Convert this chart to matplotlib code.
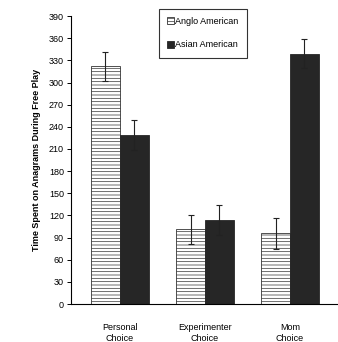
import numpy as np
import matplotlib.pyplot as plt

categories = ['Personal\nChoice', 'Experimenter\nChoice', 'Mom\nChoice']
anglo = [322, 101, 96]
anglo_err = [20, 20, 21]
asian = [229, 114, 339]
asian_err = [20, 20, 20]

plt.rcParams['font.family'] = 'Liberation Sans'
plt.rcParams['hatch.linewidth'] = 0.5
plt.rcParams['hatch.color'] = '#9a9a9a'

fig = plt.figure(figsize=(3.38, 3.42), dpi=100)
ax = fig.add_axes([0.21, 0.111, 0.79, 0.842])

x = np.arange(len(categories))
w = 0.34

ax.bar(x - w / 2, anglo, width=w, color='white', edgecolor='#333333',
       linewidth=0.6, hatch='-----', label='Anglo American')
ax.bar(x + w / 2, asian, width=w, color='#262626', edgecolor='#262626',
       linewidth=0.6, label='Asian American')
ax.errorbar(x - w / 2, anglo, yerr=anglo_err, fmt='none', ecolor='#222222',
            elinewidth=0.8, capsize=2, capthick=0.8)
ax.errorbar(x + w / 2, asian, yerr=asian_err, fmt='none', ecolor='#222222',
            elinewidth=0.8, capsize=2, capthick=0.8)

ax.set_xlim(-0.576, 2.565)
ax.set_ylim(0, 390)
ax.set_yticks(np.arange(0, 391, 30))
ax.set_xticks(x)
ax.set_xticklabels(categories, fontsize=6.5)
ax.tick_params(axis='x', length=0, pad=14)
ax.tick_params(axis='y', labelsize=6.5, length=3, width=0.7, direction='out', pad=2)

for s in ['top', 'right']:
    ax.spines[s].set_visible(False)
ax.spines['left'].set_linewidth(0.8)
ax.spines['bottom'].set_linewidth(0.8)

ax.set_ylabel('Time Spent on Anagrams During Free Play', fontsize=6.5,
              fontweight='bold', labelpad=6)

leg = ax.legend(loc='upper left', bbox_to_anchor=(0.33, 1.025), fontsize=6.5,
                frameon=True, fancybox=False, edgecolor='black',
                handlelength=0.8, handleheight=0.8, handletextpad=0.1,
                labelspacing=1.6, borderpad=0.9, borderaxespad=0)
leg.get_frame().set_linewidth(0.8)

plt.savefig('out.png', dpi=100)
